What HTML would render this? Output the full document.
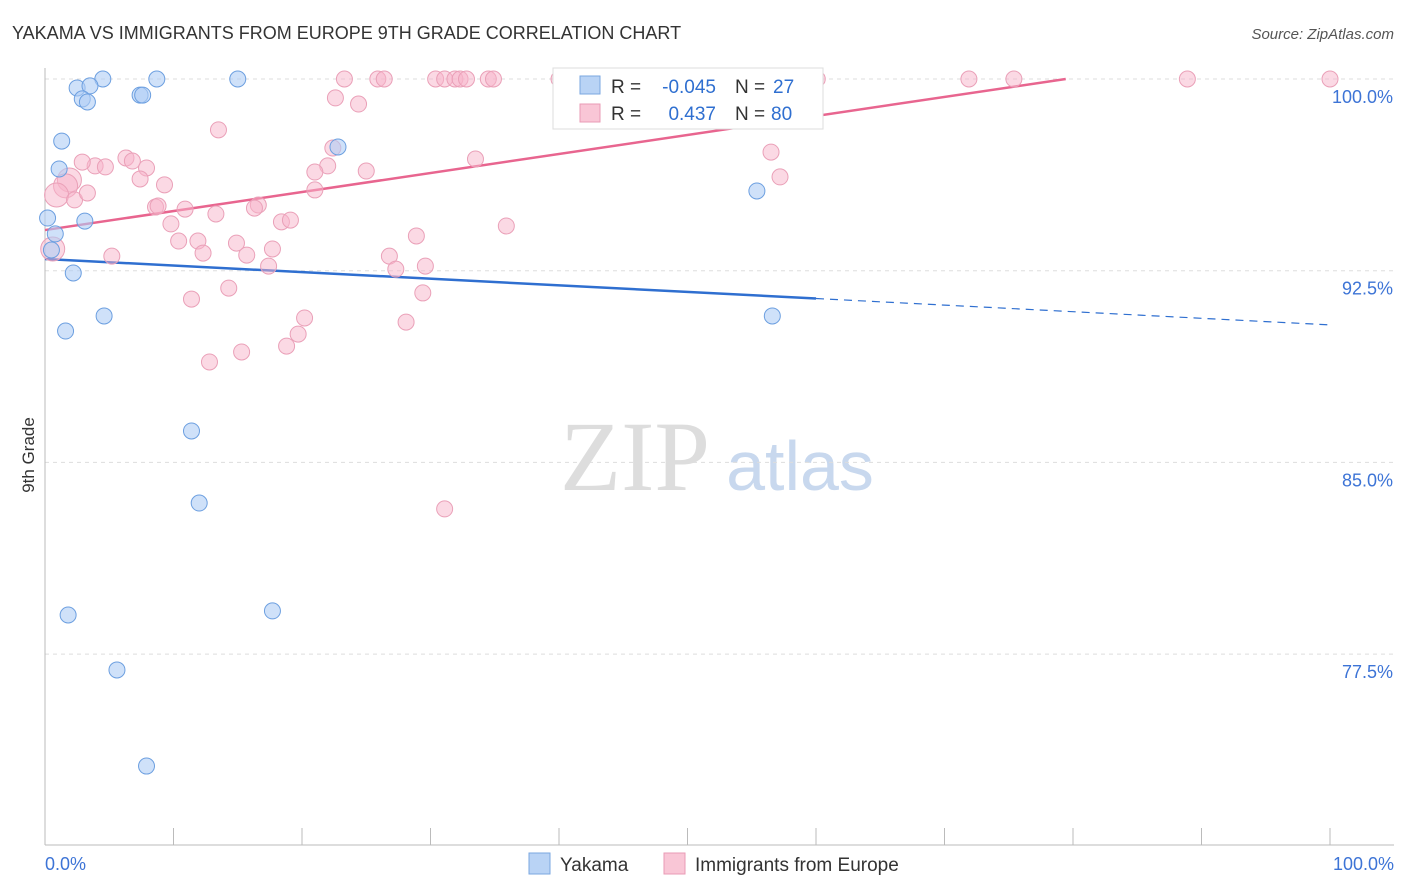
<!DOCTYPE html>
<html><head><meta charset="utf-8"><style>
body{margin:0;background:#fff;font-family:"Liberation Sans",sans-serif;}
svg{display:block}
</style></head><body>
<svg id="chart" width="1406" height="892">
<text x="12" y="39" font-size="18" fill="#333">YAKAMA VS IMMIGRANTS FROM EUROPE 9TH GRADE CORRELATION CHART</text>
<text x="1394" y="39" font-size="15" fill="#555" text-anchor="end" font-style="italic">Source: ZipAtlas.com</text>
<text transform="translate(34,455) rotate(-90)" font-size="17" fill="#333" text-anchor="middle">9th Grade</text>
<g><text x="635" y="490" font-size="100" fill="#ddd" font-family="Liberation Serif,serif" text-anchor="middle">ZIP</text><text x="800" y="490" font-size="70" fill="#c8d8ee" text-anchor="middle">atlas</text></g>
<g id="grid"></g><g id="axes"></g><g id="lines"></g><g id="pts"></g>
<g>
<rect x="553" y="68" width="270" height="61" fill="#fff" stroke="#ddd"/>
<rect x="580" y="76" width="20" height="18" fill="#b9d3f5" stroke="#7aa7e0"/>
<rect x="580" y="104" width="20" height="18" fill="#f9c6d6" stroke="#e99bb5"/>
<text x="611" y="93" font-size="19" fill="#333">R =</text>
<text x="716" y="93" font-size="19" fill="#2f6fd0" text-anchor="end">-0.045</text>
<text x="735" y="93" font-size="19" fill="#333">N =</text>
<text x="773" y="93" font-size="19" fill="#2f6fd0">27</text>
<text x="611" y="120" font-size="19" fill="#333">R =</text>
<text x="716" y="120" font-size="19" fill="#2f6fd0" text-anchor="end">0.437</text>
<text x="735" y="120" font-size="19" fill="#333">N =</text>
<text x="771" y="120" font-size="19" fill="#2f6fd0">80</text>
</g>
<g>
<rect x="529" y="853" width="21" height="21" fill="#b9d3f5" stroke="#7aa7e0"/>
<text x="560" y="871" font-size="19" fill="#333">Yakama</text>
<rect x="664" y="853" width="21" height="21" fill="#f9c6d6" stroke="#e99bb5"/>
<text x="695" y="871" font-size="19" fill="#333">Immigrants from Europe</text>
</g>
</svg>
<script>
const yTicks=[100,92.5,85,77.5];
const yTickLabels=["100.0%","92.5%","85.0%","77.5%"];
const xTickLabels=["0.0%","100.0%"];
const blueX=[4.5,8.7,15.0,2.5,3.5,2.9,3.3,7.4,7.6,1.3,1.1,0.2,3.1,0.8,0.5,2.2,4.6,1.6,11.4,12.0,1.8,17.7,5.6,7.9,22.8,55.4,56.6];
const blueY=[100,100,100,99.65,99.73,99.22,99.1,99.37,99.37,97.57,96.48,94.56,94.44,93.94,93.31,92.41,90.73,90.14,86.23,83.41,79.03,79.19,76.88,73.12,97.34,95.62,90.73];
const pinkX=[23.3,25.9,26.4,30.4,31.1,31.9,32.3,32.8,34.5,34.9,40.0,40.5,47.7,60.1,71.9,75.4,88.9,100,22.6,24.4,13.5,22.4,33.5,6.3,6.8,7.9,3.9,4.7,2.9,1.9,1.6,0.9,2.3,3.3,7.4,9.3,22.0,21.0,25.0,21.0,56.5,57.2,8.6,8.8,10.9,13.3,16.6,16.3,18.4,19.1,35.9,9.8,10.4,11.9,12.3,14.9,15.7,17.7,17.4,26.8,27.3,29.6,28.9,5.2,0.6,11.4,14.3,29.4,20.2,19.7,18.8,28.1,15.3,12.8,31.1];
const pinkY=[100,100,100,100,100,100,100,100,100,100,100,100,100,100,100,100,100,100,99.26,99.02,98.01,97.3,96.87,96.91,96.79,96.52,96.6,96.56,96.75,96.05,95.82,95.46,95.27,95.54,96.09,95.86,96.6,96.36,96.4,95.66,97.14,96.17,94.99,95.03,94.91,94.72,95.07,94.95,94.41,94.48,94.25,94.33,93.66,93.66,93.19,93.58,93.11,93.35,92.68,93.07,92.56,92.68,93.86,93.07,93.35,91.39,91.82,91.63,90.65,90.02,89.55,90.49,89.32,88.93,83.18];
const X=v=>45+v/100*1285, Y=v=>79+(100-v)/7.5*191.7;
const NS="http://www.w3.org/2000/svg";
function mk(p,tag,a){const e=document.createElementNS(NS,tag);for(const k in a)e.setAttribute(k,a[k]);document.getElementById(p).appendChild(e);return e;}
yTicks.forEach((t,i)=>{
 const g=mk('grid','line',{x1:45,x2:1394,y1:Y(t),y2:Y(t),stroke:'#ddd','stroke-dasharray':'4,4'});
 
 
 const l=mk('axes','text',{x:1393,y:Y(t)+24,'font-size':18,fill:'#3d74d6','text-anchor':'end'});l.textContent=yTickLabels[i];
 
 
});
const ax=mk('axes','line',{x1:45,x2:1394,y1:845,y2:845,stroke:'#bbb'});


const ay=mk('axes','line',{x1:45,x2:45,y1:68,y2:845,stroke:'#bbb'});


for(let i=0;i<=10;i++){const t=mk('axes','line',{x1:X(i*10),x2:X(i*10),y1:828,y2:845,stroke:'#bbb'});
 
 }
[[0,45,'start'],[1,1394,'end']].forEach(([i,x,a])=>{const t=mk('axes','text',{x:x,y:870,'font-size':18,fill:'#3d74d6','text-anchor':a});t.textContent=xTickLabels[i];
 
 });
const blueTrend=[92.96,-0.0258], pinkTrend=[94.09,0.0744];
let l1=mk('lines','line',{x1:X(0),y1:Y(blueTrend[0]),x2:X(60),y2:Y(blueTrend[0]+60*blueTrend[1]),stroke:'#2f6fd0','stroke-width':2.5});


let l2=mk('lines','line',{x1:X(60),y1:Y(blueTrend[0]+60*blueTrend[1]),x2:X(100),y2:Y(blueTrend[0]+100*blueTrend[1]),stroke:'#2f6fd0','stroke-width':1.2,'stroke-dasharray':'8,6'});


const pEnd=(100-pinkTrend[0])/pinkTrend[1];
let l3=mk('lines','line',{x1:X(0),y1:Y(pinkTrend[0]),x2:X(pEnd),y2:Y(100),stroke:'#e8658f','stroke-width':2.5});


pinkX.forEach((x,i)=>{const c=mk('pts','circle',{cx:X(x),cy:Y(pinkY[i]),r:(x<2?12:8),fill:'rgba(247,180,202,0.5)',stroke:'#eaa0b8','stroke-width':1});
 
 });
blueX.forEach((x,i)=>{const c=mk('pts','circle',{cx:X(x),cy:Y(blueY[i]),r:8,fill:'rgba(175,205,245,0.6)',stroke:'#6c9fe0','stroke-width':1});
 
 });
</script>
</body></html>
